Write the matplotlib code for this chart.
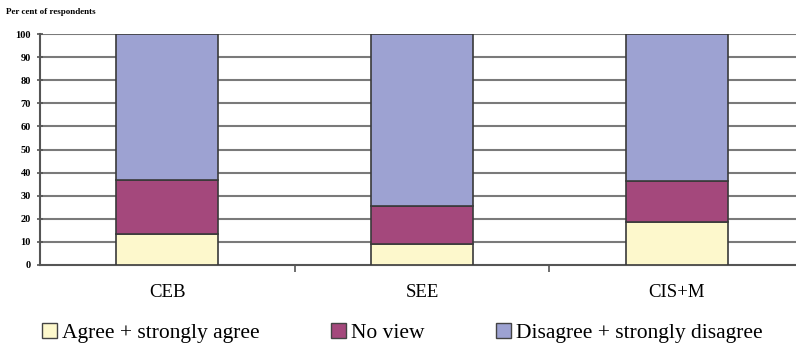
import matplotlib
matplotlib.use("Agg")
import matplotlib.pyplot as plt
from matplotlib.patches import Patch

# survey shares per region (per cent)
regions = ["CEB", "SEE", "CIS+M"]
agree = [13.4, 9.1, 18.7]
no_view = [23.4, 16.4, 17.7]
disagree = [63.2, 74.5, 63.6]
series_names = ["Agree + strongly agree", "No view", "Disagree + strongly disagree"]
colors = ["#fdf8cc", "#a4487c", "#9da2d2"]

plt.rcParams["font.family"] = ["Liberation Serif", "DejaVu Serif"]

fig = plt.figure(figsize=(7.96, 3.51), dpi=100)
ax = fig.add_axes([40 / 796, 86 / 351, 764 / 796, 231 / 351])

x = range(len(regions))
bottom = [0] * len(regions)
for vals, col in zip([agree, no_view, disagree], colors):
    ax.bar(x, vals, width=0.4, bottom=bottom, color=col, edgecolor="#3a3a3a",
           linewidth=1.2, zorder=3)
    bottom = [b + v for b, v in zip(bottom, vals)]

ax.set_xlim(-0.5, 2.5)
ax.set_ylim(0, 100)
ax.set_yticks(range(0, 101, 10))
ax.set_yticklabels([str(v) for v in range(0, 101, 10)], fontsize=7.5, fontweight="bold")
ax.tick_params(axis="y", direction="inout", length=5, width=1.2, color="#555555", pad=4)
for v in range(10, 101, 10):
    ax.axhline(v, color="#7a7a7a", lw=1.5, zorder=1)

ax.set_xticks(list(x))
ax.set_xticklabels(regions, fontsize=13.5)
ax.tick_params(axis="x", length=0, pad=14)
ax.set_xticks([0.5, 1.5], minor=True)
ax.tick_params(axis="x", which="minor", direction="out", length=5, width=1.2, color="#555555")

for s in ["top", "right"]:
    ax.spines[s].set_visible(False)
for s in ["left", "bottom"]:
    ax.spines[s].set_color("#555555")
    ax.spines[s].set_linewidth(1.5)

fig.text(6 / 796, 1 - 12 / 351, "Per cent of respondents", fontsize=6.5,
         fontweight="bold", va="center")

handles = [Patch(facecolor=c, edgecolor="#444444", linewidth=1) for c in colors]
fig.legend(handles, series_names, loc="center left", bbox_to_anchor=(33 / 796, 1 - 333 / 351),
           ncol=3, frameon=False, fontsize=15.5, handlelength=0.7, handleheight=0.7,
           handletextpad=0.25, columnspacing=3.3, borderaxespad=0)

fig.savefig("out.png", dpi=100)
